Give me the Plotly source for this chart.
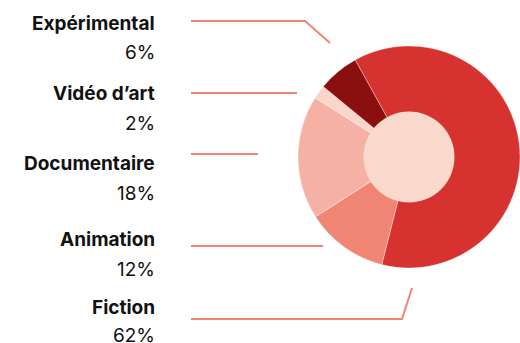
import plotly.graph_objects as go

# Répartition des films par genre
genres = ["Fiction", "Animation", "Documentaire", "Vidéo d’art", "Expérimental"]
parts = [62, 12, 18, 2, 6]
couleurs = ["#d6322f", "#f08574", "#f4b1a4", "#f9d6c9", "#8b0f0f"]
centre_couleur = "#f9d9cc"
trait_couleur = "#f08574"

W, H = 520, 343


def px(x):
    return x / W


def py(y):
    return 1 - y / H


cx, cy, r, r_in = 409, 157, 111, 45.5

fig = go.Figure()
fig.add_trace(go.Pie(
    labels=genres, values=parts, sort=False, direction="clockwise", rotation=331,
    marker=dict(colors=couleurs, line=dict(color="rgba(255,255,255,0.6)", width=0.6)),
    hole=0.0, textinfo="none", hoverinfo="skip", showlegend=False,
    domain=dict(x=[px(cx - r), min(1, px(cx + r))], y=[py(cy + r), py(cy - r)]),
))
# disque central
fig.add_trace(go.Pie(
    values=[1], marker=dict(colors=[centre_couleur], line=dict(width=0)),
    textinfo="none", hoverinfo="skip", showlegend=False, sort=False,
    domain=dict(x=[px(cx - r_in), px(cx + r_in)], y=[py(cy + r_in), py(cy - r_in)]),
))

# étiquettes à gauche (nom en gras, pourcentage dessous)
label_y = {"Expérimental": (23, 52), "Vidéo d’art": (93, 123),
           "Documentaire": (163, 193), "Animation": (239, 269), "Fiction": (307, 335)}
for g, p in zip(genres, parts):
    y1, y2 = label_y[g]
    fig.add_annotation(x=px(157), y=py(y1), xref="paper", yref="paper", text=f"<b>{g}</b>",
                       xanchor="right", yanchor="middle", showarrow=False,
                       font=dict(family="Inter", size=19, color="#111111"))
    fig.add_annotation(x=px(157), y=py(y2), xref="paper", yref="paper", text=f"{p}%",
                       xanchor="right", yanchor="middle", showarrow=False,
                       font=dict(family="Inter", size=19, color="#111111"))

# traits de rappel
traits = [
    [(191, 21), (305, 21), (330, 43)],
    [(191, 93), (297, 93)],
    [(191, 154), (258, 154)],
    [(191, 246), (323, 246)],
    [(191, 319), (402, 319), (412, 288)],
]
for pts in traits:
    path = "M " + " L ".join(f"{px(x)},{py(y)}" for x, y in pts)
    fig.add_shape(type="path", path=path, xref="paper", yref="paper",
                  line=dict(color=trait_couleur, width=2))

fig.update_layout(width=W, height=H, margin=dict(l=0, r=0, t=0, b=0),
                  paper_bgcolor="white", plot_bgcolor="white")
fig.write_html("out.html")
